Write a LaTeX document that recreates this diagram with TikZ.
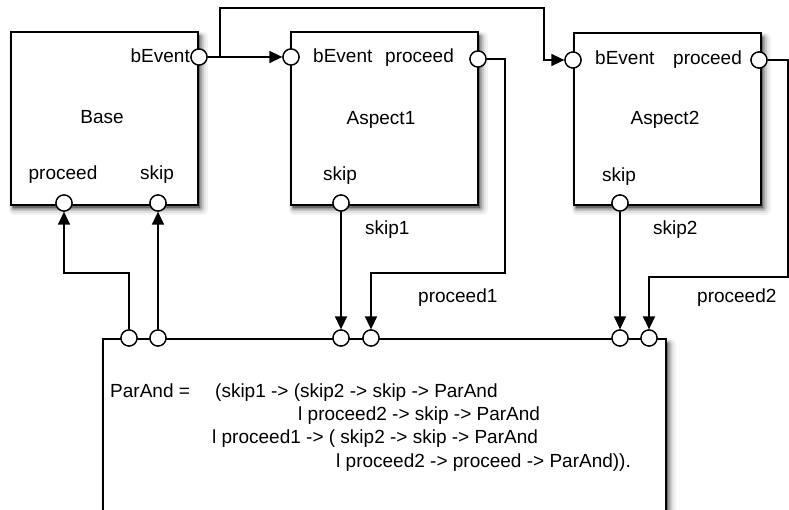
\documentclass[tikz,border=0pt]{standalone}
\usepackage{fontspec}
\setmainfont{Liberation Sans}
\usetikzlibrary{arrows.meta}
\begin{document}
\begin{tikzpicture}[x=1pt,y=-1pt,
  box/.style={draw, line width=1.7pt, fill=white, inner sep=0pt, anchor=north west},
  port/.style={draw, circle, line width=1.3pt, fill=white, minimum size=16pt, inner sep=0pt},
  conn/.style={line width=1.5pt, -{Triangle[length=13pt,width=12pt]}},
  lbl/.style={inner sep=0pt, font=\fontsize{19}{23}\selectfont},
  sh1/.style={fill=black!5, rounded corners=5pt},
  sh2/.style={fill=black!12, rounded corners=4pt},
  sh3/.style={fill=black!24, rounded corners=3pt},
  sh4/.style={fill=black!40, rounded corners=2pt},
  sh5/.style={fill=black!58},
]
\useasboundingbox (0,0) rectangle (789,510);
\fill[white] (0,0) rectangle (789,510);

% box geometry (anchors for the shadows)
\coordinate (bNW) at (10,31);   \coordinate (bSE) at (197,204);
\coordinate (a1NW) at (290,31); \coordinate (a1SE) at (477,204);
\coordinate (a2NW) at (573,32); \coordinate (a2SE) at (760,204);
\coordinate (pNW) at (102,338); \coordinate (pSE) at (665,540);

% shadows
\foreach \nw/\se in {bNW/bSE, a1NW/a1SE, a2NW/a2SE, pNW/pSE}{
  \fill[sh1] ([shift={(-1,1)}]\nw) rectangle ([shift={(11,11)}]\se);
  \fill[sh2] ([shift={(0,2)}]\nw) rectangle ([shift={(8.5,9)}]\se);
  \fill[sh3] ([shift={(1,3)}]\nw) rectangle ([shift={(6.5,7)}]\se);
  \fill[sh4] ([shift={(2,4)}]\nw) rectangle ([shift={(4.5,5.5)}]\se);
  \fill[sh5] ([shift={(3,5)}]\nw) rectangle ([shift={(3,4)}]\se);
}

% boxes
\node[box, minimum width=187pt, minimum height=173pt] (base) at (bNW) {};
\node[box, minimum width=187pt, minimum height=173pt] (asp1) at (a1NW) {};
\node[box, minimum width=187pt, minimum height=172pt] (asp2) at (a2NW) {};
\node[box, minimum width=563pt, minimum height=202pt] (par) at (pNW) {};

% ports
\node[port] (bbE) at (199,57) {};
\node[port] (bpr) at (64,203) {};
\node[port] (bsk) at (158,203) {};
\node[port] (a1bE) at (291,57) {};
\node[port] (a1pr) at (478,59) {};
\node[port] (a1sk) at (341,203) {};
\node[port] (a2bE) at (573,60) {};
\node[port] (a2pr) at (759,60) {};
\node[port] (a2sk) at (620,203) {};
\node[port] (p1) at (129,338) {};
\node[port] (p2) at (158,338) {};
\node[port] (p3) at (341,338) {};
\node[port] (p4) at (371,338) {};
\node[port] (p5) at (620,338) {};
\node[port] (p6) at (649,338) {};

% connectors
\coordinate (split) at (220,57);
\coordinate (topL) at (220,8);
\coordinate (topR) at (544,60);
\coordinate (c1) at (64,273);
\coordinate (c2) at (505,273);
\coordinate (c3) at (788,277);
\draw[conn] (bbE) -- (a1bE);
\draw[conn] (split) -- (topL) -| (topR) -- (a2bE);
\draw[conn] (p1) |- (c1) -- (bpr);
\draw[conn] (p2) -- (bsk);
\draw[conn] (a1sk) -- (p3);
\draw[conn] (a1pr) -| (c2) -| (p4);
\draw[conn] (a2sk) -- (p5);
\draw[conn] (a2pr) -| (c3) -| (p6);

% ports drawn again above the connector ends
\foreach \p in {bbE,bpr,bsk,a1bE,a1pr,a1sk,a2bE,a2pr,a2sk,p1,p2,p3,p4,p5,p6}
  \node[port] at (\p) {};

% labels
\node[lbl, anchor=base] (tBase) at (102,124) {Base};
\node[lbl, anchor=base east] (tbbE) at (190,63) {bEvent};
\node[lbl, anchor=base] (tbpr) at (63,180) {proceed};
\node[lbl, anchor=base] (tbsk) at (157,180) {skip};

\node[lbl, anchor=base] (tA1) at (381,125) {Aspect1};
\node[lbl, anchor=base west] (ta1bE) at (313,63) {bEvent};
\node[lbl, anchor=base west] (ta1pr) at (385,63) {proceed};
\node[lbl, anchor=base] (ta1sk) at (340,181) {skip};

\node[lbl, anchor=base] (tA2) at (665,125) {Aspect2};
\node[lbl, anchor=base west] (ta2bE) at (595,65) {bEvent};
\node[lbl, anchor=base west] (ta2pr) at (673,65) {proceed};
\node[lbl, anchor=base] (ta2sk) at (619,182) {skip};

\node[lbl, anchor=base west] (tsk1) at (365,235) {skip1};
\node[lbl, anchor=base west] (tsk2) at (653,235) {skip2};
\node[lbl, anchor=base west] (tpr1) at (418,302) {proceed1};
\node[lbl, anchor=base west] (tpr2) at (697,302) {proceed2};

\node[lbl, anchor=base west] (e0) at (110,397) {ParAnd =};
\node[lbl, anchor=base west] (e1) at (215,397) {(skip1 -> (skip2 -> skip -> ParAnd};
\node[lbl, anchor=base west] (e2) at (298,420) {l proceed2 -> skip -> ParAnd};
\node[lbl, anchor=base west] (e3) at (212,443) {l proceed1 -> ( skip2 -> skip -> ParAnd};
\node[lbl, anchor=base west] (e4) at (336,467) {l proceed2 -> proceed -> ParAnd)).};
\end{tikzpicture}
\end{document}
